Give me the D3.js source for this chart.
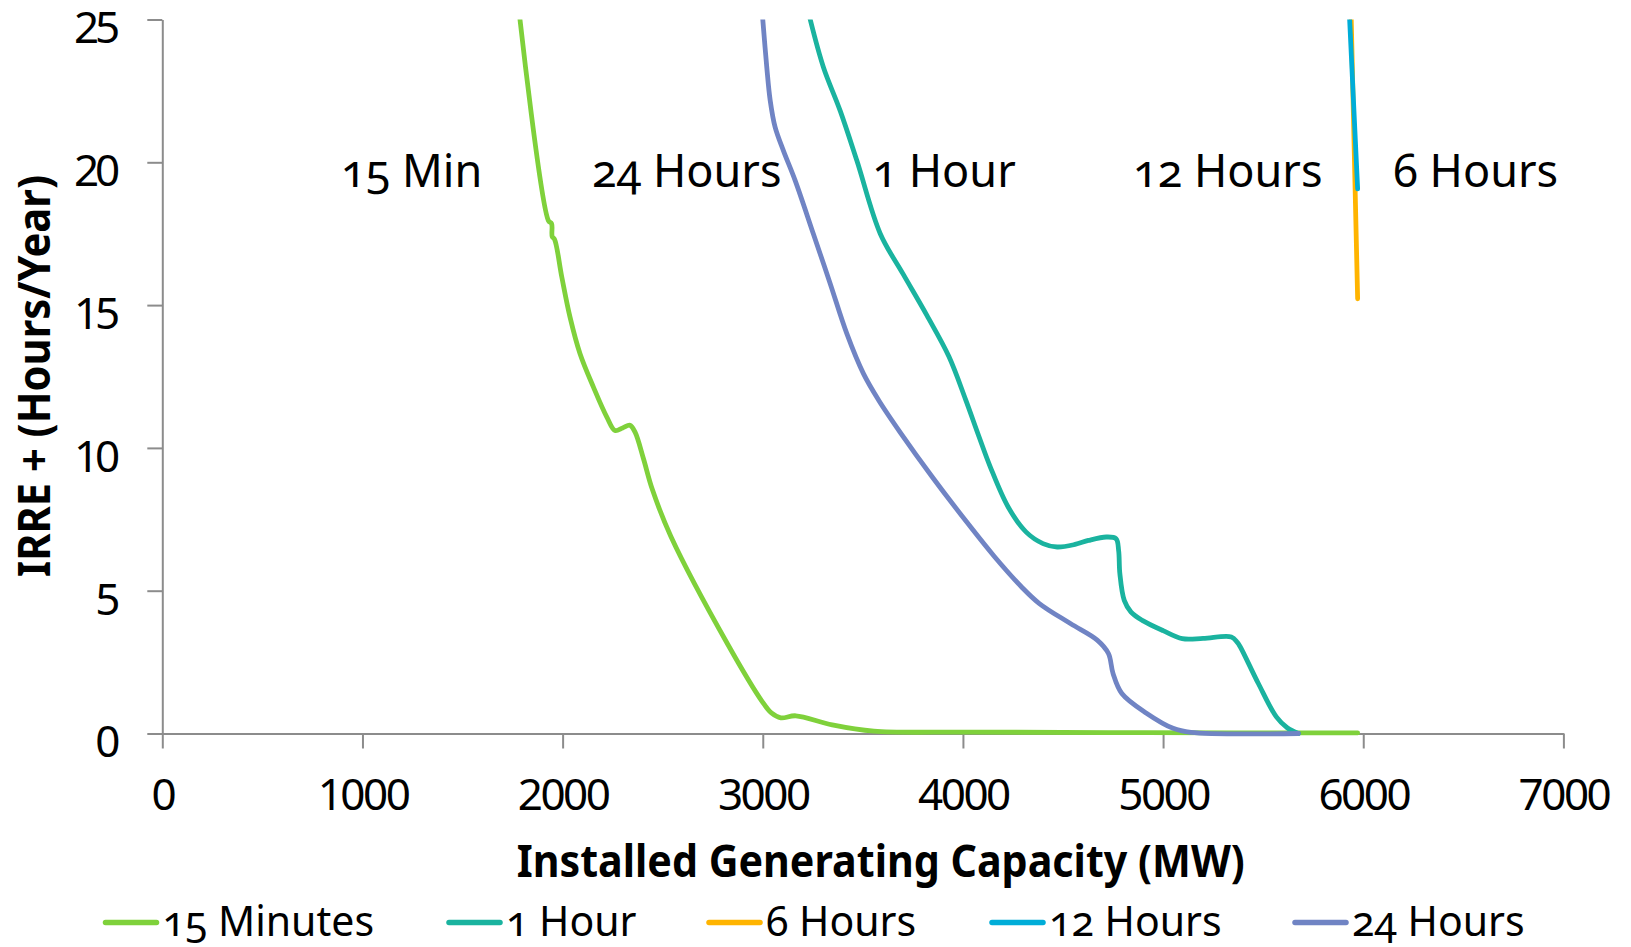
<!DOCTYPE html>
<html>
<head>
<meta charset="utf-8">
<script src="https://cdn.jsdelivr.net/npm/d3@7"></script>
<style>
  html, body { margin: 0; padding: 0; background: #fff; }
  svg { display: block; }
  .num { font-family: "Noto Sans", "Open Sans", sans-serif; }
  .old { font-variant-numeric: oldstyle-nums; font-feature-settings: "onum" 1; }
</style>
</head>
<body>
<svg id="chart" width="1631" height="947"></svg>
<script>
// ---------- data ----------
const seriesNames = ["15 Minutes", "1 Hour", "6 Hours", "12 Hours", "24 Hours"];
const seriesColors = ["#7FD13B", "#1AB39F", "#FFB400", "#00ADD8", "#7084C4"];

const min15X = [1787, 1929, 1945, 1948, 1960, 1996, 2037, 2087, 2154, 2221, 2262, 2300, 2337, 2362, 2404, 2448, 2541, 2827, 2999, 3043, 3090, 3165, 3347, 3555, 4023, 4906, 5972];
const min15Y = [25, 17.96, 17.85, 17.4, 17.3, 15.98, 14.58, 13.3, 12.13, 11.08, 10.61, 10.7, 10.79, 10.55, 9.62, 8.55, 6.9, 3.1, 1.1, 0.72, 0.55, 0.62, 0.3, 0.08, 0.05, 0.03, 0.02];

const hour1X = [3237, 3303, 3387, 3470, 3587, 3700, 3820, 3930, 4013, 4080, 4137, 4226, 4316, 4400, 4471, 4560, 4627, 4716, 4765, 4778, 4784, 4806, 4840, 4896, 5000, 5096, 5200, 5341, 5370, 5386, 5476, 5566, 5620, 5676];
const hour1Y = [25, 23.33, 21.8, 20.06, 17.5, 16.1, 14.64, 13.2, 11.7, 10.4, 9.33, 7.93, 7.05, 6.65, 6.53, 6.62, 6.76, 6.88, 6.82, 6.4, 5.6, 4.66, 4.25, 3.96, 3.6, 3.32, 3.33, 3.38, 3.2, 3.03, 1.75, 0.58, 0.2, 0];

const hour6X = [5940, 5972];
const hour6Y = [25, 15.22];

const hour12X = [5932, 5972];
const hour12Y = [25, 19.07];

const hour24X = [3000, 3020, 3037, 3062, 3103, 3162, 3253, 3337, 3420, 3503, 3579, 3690, 3846, 4025, 4158, 4292, 4382, 4537, 4671, 4727, 4750, 4794, 4917, 5050, 5139, 5676];
const hour24Y = [25, 23.33, 22.17, 21.22, 20.41, 19.36, 17.49, 15.75, 14.0, 12.6, 11.67, 10.51, 8.99, 7.35, 6.19, 5.14, 4.55, 3.85, 3.27, 2.8, 2.1, 1.4, 0.71, 0.18, 0.04, 0];

const xTicks = [0, 1000, 2000, 3000, 4000, 5000, 6000, 7000];
const yTicks = [0, 5, 10, 15, 20, 25];

const annotationTexts = ["15 Min", "24 Hours", "1 Hour", "12 Hours", "6 Hours"];
const annotationX = [893, 2147, 3548, 4850, 6150];
const annotationY = [19.15, 19.15, 19.15, 19.15, 19.15];

const xTitle = "Installed Generating Capacity (MW)";
const yTitle = "IRRE + (Hours/Year)";

// ---------- chart ----------
const svg = d3.select("#chart");
const L = 162.3, R = 1563.4, T = 19.5, B = 733.5;
const x = d3.scaleLinear().domain([0, 7000]).range([L, R]);
const y = d3.scaleLinear().domain([0, 25]).range([B, T]);
const axisColor = "#8C8C8C";

svg.append("rect").attr("width", 1631).attr("height", 947).attr("fill", "#fff");

// axes
const gx = svg.append("g").attr("transform", `translate(0,${B})`)
  .call(d3.axisBottom(x).tickValues(xTicks).tickSize(15).tickSizeOuter(0).tickPadding(30.5).tickFormat(d3.format("d")));
const gy = svg.append("g").attr("transform", `translate(${L},0)`)
  .call(d3.axisLeft(y).tickValues(yTicks).tickSize(15).tickSizeOuter(0).tickPadding(31).tickFormat(d3.format("d")));
[gx, gy].forEach(g => {
  g.selectAll("path.domain").attr("stroke", axisColor).attr("stroke-width", 2);
  g.selectAll(".tick line").attr("stroke", axisColor).attr("stroke-width", 2);
  g.selectAll(".tick text").attr("fill", "#000").attr("class", "num")
    .attr("font-size", 44).style("letter-spacing", "-2.5px");
});
gy.selectAll(".tick text").attr("dy", "0.53em").style("letter-spacing", "-4px");

// clip
svg.append("clipPath").attr("id", "plotclip")
  .append("rect").attr("x", L - 5).attr("y", T).attr("width", R - L + 10).attr("height", B - T + 10);

const seriesX = [min15X, hour1X, hour6X, hour12X, hour24X];
const seriesY = [min15Y, hour1Y, hour6Y, hour12Y, hour24Y];

const line = d3.line().x(d => x(d[0])).y(d => y(d[1])).curve(d3.curveCatmullRom.alpha(0.5));
const plot = svg.append("g").attr("clip-path", "url(#plotclip)");
seriesNames.forEach((name, i) => {
  const pts = seriesX[i].map((v, j) => [v, seriesY[i][j]]);
  plot.append("path").datum(pts)
    .attr("d", line)
    .attr("fill", "none")
    .attr("stroke", seriesColors[i])
    .attr("stroke-width", 4.8)
    .attr("stroke-linejoin", "round")
    .attr("stroke-linecap", "round");
});

// annotations
annotationTexts.forEach((t, i) => {
  svg.append("text").attr("class", "num old")
    .attr("x", x(annotationX[i])).attr("y", y(annotationY[i]))
    .attr("font-size", 45).attr("fill", "#000").text(t);
});

// axis titles
svg.append("text")
  .attr("x", 880.7).attr("y", 876.7)
  .attr("text-anchor", "middle")
  .attr("font-family", "'Noto Sans', sans-serif").attr("font-weight", "bold")
  .attr("font-size", 44).attr("textLength", 728).attr("lengthAdjust", "spacingAndGlyphs")
  .text(xTitle);
svg.append("text")
  .attr("transform", "translate(50,376) rotate(-90)")
  .attr("text-anchor", "middle")
  .attr("font-family", "'Noto Sans', sans-serif").attr("font-weight", "bold")
  .attr("font-size", 44).attr("textLength", 402).attr("lengthAdjust", "spacingAndGlyphs")
  .text(yTitle);

// legend
const legendLineX = [103.5, 447, 707, 990, 1293];
const legend = svg.append("g");
seriesNames.forEach((name, i) => {
  const lx = legendLineX[i];
  legend.append("line")
    .attr("x1", lx + 2).attr("x2", lx + 53).attr("y1", 922.5).attr("y2", 922.5)
    .attr("stroke", seriesColors[i]).attr("stroke-width", 5.5).attr("stroke-linecap", "round");
  legend.append("text").attr("class", "num old")
    .attr("x", lx + 59).attr("y", 935.5)
    .attr("font-size", 41).attr("fill", "#000").text(name);
});
</script>
</body>
</html>
